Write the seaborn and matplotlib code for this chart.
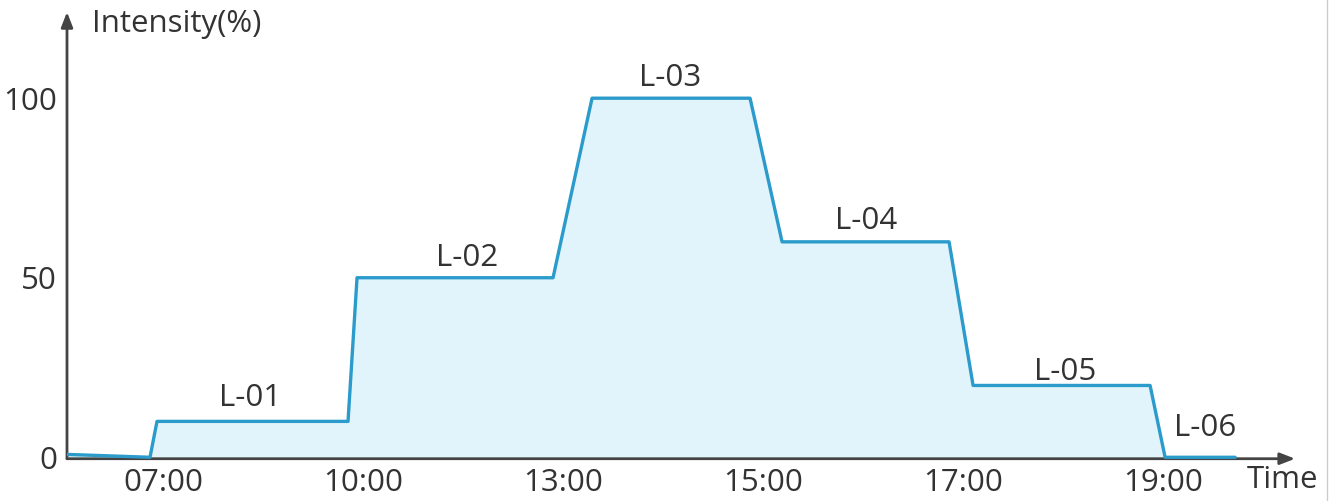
import matplotlib
matplotlib.use("Agg")
import matplotlib.pyplot as plt
from matplotlib.lines import Line2D
import seaborn as sns
import pandas as pd

# time ticks are evenly spaced on the chart, so x is a slot index (07:00 = 0)
tick_pos = [0, 1, 2, 3, 4, 5]
tick_labels = ["07:00", "10:00", "13:00", "15:00", "17:00", "19:00"]

# breakpoints of the intensity profile
x_pts = [-0.48, -0.065, -0.03, 0.925, 0.97, 1.95, 2.145, 2.935, 3.095, 3.93, 4.05, 4.935, 5.01, 5.36]
y_pts = [0.8, 0, 10, 10, 50, 50, 100, 100, 60, 60, 20, 20, 0, 0]

# scene labels: name, x slot, baseline height
scene_names = ["L-01", "L-02", "L-03", "L-04", "L-05", "L-06"]
scene_x = [0.435, 1.52, 2.535, 3.515, 4.51, 5.21]
scene_y = [14.4, 53.4, 103.3, 63.5, 21.5, 6.0]

line_color = "#2a9bcb"
fill_color = "#e2f4fb"
axis_color = "#444444"
text_color = "#333333"
fs = 22.5

sns.set_style("white")
plt.rcParams["font.family"] = ["Open Sans", "DejaVu Sans"]

df = pd.DataFrame({"slot": x_pts, "intensity": y_pts})

fig = plt.figure(figsize=(13.32, 5.01), dpi=100)
ax = fig.add_axes([0.0503, 0.0844, 0.922, 0.8916])

ax.fill_between(df["slot"], df["intensity"], 0, color=fill_color, lw=0, zorder=1)
sns.lineplot(data=df, x="slot", y="intensity", color=line_color, lw=2.4, ax=ax,
             sort=False, zorder=3)

ax.set_xlim(-0.48, 5.66)
ax.set_ylim(-0.4, 124)

for s in ax.spines.values():
    s.set_visible(False)

# axis arrows
arrow = dict(arrowstyle="-|>,head_width=0.35,head_length=0.9", color=axis_color, lw=2, shrinkA=0, shrinkB=0)
ax.annotate("", xy=(1, 0), xytext=(0, 0), xycoords="axes fraction", arrowprops=arrow, zorder=2)
ax.annotate("", xy=(0, 1), xytext=(0, 0), xycoords="axes fraction", arrowprops=arrow, zorder=2)

ax.set_xticks(tick_pos)
ax.set_xticklabels(tick_labels)
ax.set_yticks([0, 50, 100])
ax.tick_params(axis="both", length=0, labelsize=fs, colors=text_color)
ax.tick_params(axis="x", pad=7)
ax.tick_params(axis="y", pad=7)
ax.set_xlabel("")
ax.set_ylabel("")

for name, sx, sy in zip(scene_names, scene_x, scene_y):
    ax.text(sx, sy, name, ha="center", va="baseline", fontsize=fs, color=text_color)

ax.text(0.02, 0.973, "Intensity(%)", transform=ax.transAxes, ha="left", va="center",
        fontsize=fs, color=text_color)
ax.text(0.9894, -0.048, "Time", transform=ax.transAxes, ha="center", va="center",
        fontsize=fs, color=text_color, clip_on=False)

# thin border on the right edge
fig.add_artist(Line2D([1327 / 1332, 1327 / 1332], [0, 1], transform=fig.transFigure,
                      color="#cccccc", lw=1))

fig.savefig("out.png", dpi=100)
